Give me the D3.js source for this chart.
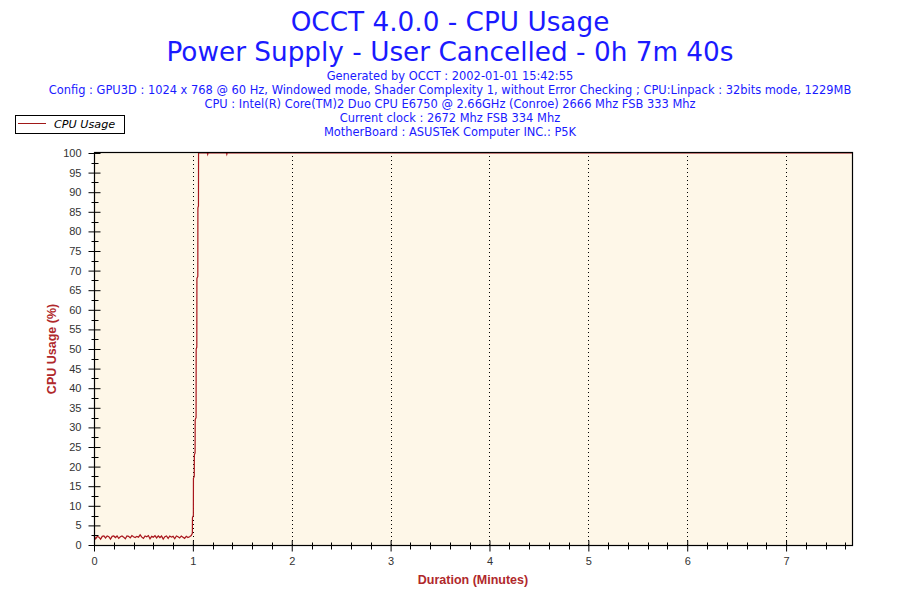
<!DOCTYPE html>
<html><head><meta charset="utf-8">
<script src="https://cdn.jsdelivr.net/npm/d3@7"></script>
<style>body{margin:0;background:#fff}svg{display:block}</style>
</head><body>
<svg id="c" width="900" height="600"></svg>
<script>
const titleLines = ["OCCT 4.0.0 - CPU Usage", "Power Supply - User Cancelled - 0h 7m 40s"];
const infoLines = [
  "Generated by OCCT : 2002-01-01 15:42:55",
  "Config : GPU3D : 1024 x 768 @ 60 Hz, Windowed mode, Shader Complexity 1, without Error Checking ; CPU:Linpack : 32bits mode, 1229MB",
  "CPU : Intel(R) Core(TM)2 Duo CPU E6750 @ 2.66GHz (Conroe) 2666 Mhz FSB 333 Mhz",
  "Current clock : 2672 Mhz FSB 334 Mhz",
  "MotherBoard : ASUSTeK Computer INC.: P5K"
];
const seriesName = "CPU Usage";
const xTitle = "Duration (Minutes)";
const yTitle = "CPU Usage (%)";
const xTicks = [0,1,2,3,4,5,6,7];
const yTicks = [0,5,10,15,20,25,30,35,40,45,50,55,60,65,70,75,80,85,90,95,100];
const xMaxMinutes = 460/60;

// time in seconds, usage in %
const idleSeconds = [0,1,2,3,4,5,6,7,8,9,10,11,12,13,14,15,16,17,18,19,20,21,22,23,24,25,26,27,28,29,30,31,32,33,34,35,36,37,38,39,40,41,42,43,44,45,46,47,48,49,50,51,52,53,54,55,56,57,58,59];
const idleUsage = [2.4,1.6,2.2,2.0,1.5,2.2,2.3,1.8,2.3,2.1,1.5,2.2,2.3,1.9,2.3,1.7,2.1,2.3,2.0,1.6,2.3,2.2,1.8,2.4,2.1,1.9,2.2,2.0,2.6,2.0,1.7,2.3,2.1,2.4,1.6,2.2,2.0,2.4,1.8,2.3,1.9,2.3,1.5,2.1,2.3,1.7,2.3,2.0,2.2,1.6,2.3,2.1,1.8,2.3,2.0,1.7,2.2,1.9,2.1,2.4];
const rampSeconds = [59.7,59.75,60.3,60.35,60.85,60.9,61.35,61.4,61.95,62.0,62.4,62.45,63.0,63.05,63.4,63.45];
const rampUsage   = [3,7,7.5,17,17.5,23,23.5,32,32.5,50,50.5,68,68.5,86,86.5,100];
const loadSeconds = [68.8,69.0,69.2,80.4,80.6,80.8,460];
const loadUsage   = [100,99.7,100,100,99.7,100,100];

const seconds = idleSeconds.concat(rampSeconds, loadSeconds);
const usage = idleUsage.concat(rampUsage, loadUsage);
const data = seconds.map((s,i)=>({t:s/60, v:usage[i]}));

const svg = d3.select("#c");
const L=94, R=852, T=152, B=545;
const x = d3.scaleLinear().domain([0, xMaxMinutes]).range([L, R]);
const y = d3.scaleLinear().domain([0, 100]).range([B, T+1]);

const blue = "#1a1aff";
const fontV = "'DejaVu Sans', Verdana, sans-serif";

svg.append("text").attr("x",450).attr("y",31).attr("text-anchor","middle")
  .attr("font-family",fontV).attr("font-size",26.3).attr("fill",blue).text(titleLines[0]);
svg.append("text").attr("x",450).attr("y",61).attr("text-anchor","middle")
  .attr("font-family",fontV).attr("font-size",26.3).attr("fill",blue).text(titleLines[1]);
infoLines.forEach((t,i)=>{
  svg.append("text").attr("x",450).attr("y",80+i*14).attr("text-anchor","middle")
    .attr("font-family",fontV).attr("font-size",11.45).attr("fill",blue).text(t);
});

// legend
const lg = svg.append("g");
lg.append("rect").attr("x",15.5).attr("y",115.5).attr("width",109).attr("height",18)
  .attr("fill","#fff").attr("stroke","#000");
lg.append("line").attr("x1",18).attr("x2",46).attr("y1",123.5).attr("y2",123.5)
  .attr("stroke","#a01818").attr("stroke-width",1);
lg.append("text").attr("x",54).attr("y",128).attr("font-family",fontV).attr("font-style","italic")
  .attr("font-size",11.2).attr("fill","#000").text(seriesName);

// plot background
svg.append("rect").attr("x",L).attr("y",T).attr("width",R-L).attr("height",B-T).attr("fill","#fef7e8");

// vertical dotted grid
svg.append("g").selectAll("line").data(xTicks.filter(d=>d>0)).join("line")
  .attr("x1",d=>Math.round(x(d))+0.5).attr("x2",d=>Math.round(x(d))+0.5)
  .attr("y1",T).attr("y2",B).attr("stroke","#000").attr("stroke-dasharray","1,3");

// series
svg.append("path").datum(data)
  .attr("d", d3.line().x(d=>x(d.t)).y(d=>y(d.v)))
  .attr("fill","none").attr("stroke","#a8161c").attr("stroke-width",1.2);

// border
svg.append("rect").attr("x",L+0.5).attr("y",T+0.5).attr("width",R-L).attr("height",B-T)
  .attr("fill","none").attr("stroke","#000").attr("stroke-width",1.2);

// y axis
const yMinor = d3.range(2.5,100,5);
const ya = svg.append("g").attr("transform",`translate(${L+0.5},0)`);
ya.call(d3.axisLeft(y).tickValues(yTicks).tickSizeInner(6).tickSizeOuter(0).tickPadding(7))
  .call(g=>g.select(".domain").remove());
ya.selectAll(".tick line").attr("x2",-6).attr("x1",6).attr("stroke","#000");
ya.selectAll(".tick text").attr("font-family","'Liberation Sans', Arial, sans-serif").attr("font-size",11).attr("fill","#333");
ya.selectAll(".minor").data(yMinor).join("line").attr("class","minor")
  .attr("x1",-3).attr("x2",4).attr("y1",d=>Math.round(y(d))+0.5).attr("y2",d=>Math.round(y(d))+0.5).attr("stroke","#000");

// x axis
const xMinor = d3.range(0.2, xMaxMinutes, 0.2).filter(d=>Math.abs(d-Math.round(d))>0.01);
const xa = svg.append("g").attr("transform",`translate(0,${B+0.5})`);
xa.call(d3.axisBottom(x).tickValues(xTicks).tickFormat(d3.format("d")).tickSizeInner(6).tickSizeOuter(0).tickPadding(6))
  .call(g=>g.select(".domain").remove());
xa.selectAll(".tick line").attr("y1",-5).attr("y2",6).attr("stroke","#000");
xa.selectAll(".tick text").attr("font-family","'Liberation Sans', Arial, sans-serif").attr("font-size",11).attr("fill","#333");
xa.selectAll(".minor").data(xMinor).join("line").attr("class","minor")
  .attr("x1",d=>Math.round(x(d))+0.5).attr("x2",d=>Math.round(x(d))+0.5).attr("y1",-3).attr("y2",4).attr("stroke","#000");

// axis titles
svg.append("text").attr("x",473).attr("y",584).attr("text-anchor","middle")
  .attr("font-family","'Liberation Sans', Arial, sans-serif").attr("font-weight","bold").attr("font-size",12.5)
  .attr("fill","#b0282b").text(xTitle);
svg.append("text").attr("transform","translate(56,349) rotate(-90)").attr("text-anchor","middle")
  .attr("font-family","'Liberation Sans', Arial, sans-serif").attr("font-weight","bold").attr("font-size",12.5)
  .attr("fill","#b0282b").text(yTitle);
</script>
</body></html>
